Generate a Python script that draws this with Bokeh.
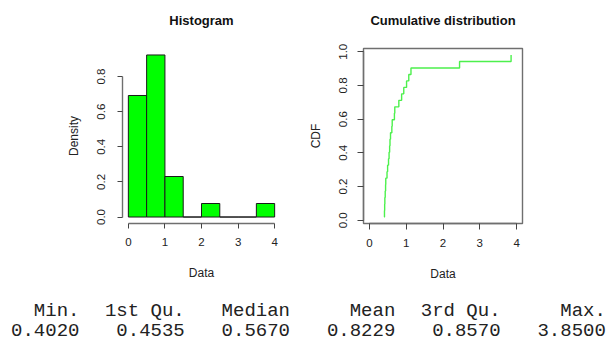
import numpy as np
from bokeh.plotting import figure
from bokeh.layouts import column, row
from bokeh.models import Range1d, FixedTicker, PrintfTickFormatter
from bokeh.embed import file_html
from bokeh.resources import INLINE
from bokeh.core.properties import value

# Sample (sorted ascending)
data = [0.402, 0.41, 0.415, 0.42, 0.43, 0.44, 0.445, 0.479, 0.495, 0.52,
        0.535, 0.55, 0.56, 0.574, 0.61, 0.62, 0.68, 0.69, 0.80, 0.876,
        0.934, 1.01, 1.07, 1.13, 2.45, 3.85]
bin_edges = [0.0, 0.5, 1.0, 1.5, 2.0, 2.5, 3.0, 3.5, 4.0]
data_ticks = [0, 1, 2, 3, 4]
density_ticks = [0.0, 0.2, 0.4, 0.6, 0.8]
cdf_ticks = [0.0, 0.2, 0.4, 0.6, 0.8, 1.0]
panel_titles = ["Histogram", "Cumulative distribution"]
stat_names = ["Min.", "1st Qu.", "Median", "Mean", "3rd Qu.", "Max."]
stat_values = [0.4020, 0.4535, 0.5670, 0.8229, 0.8570, 3.8500]

SANS = "Liberation Sans"
MONO = "Liberation Mono"
AXIS_GREY = "#6f6f6f"
INK = "#222222"

# panel geometry (pixels): header strip, plot panels, summary strip
HEAD_H, PANEL_H, TABLE_H = 35, 250, 57
P1_W, P2_W = 300, 308
P1_LEFT, P1_FRAME_W = 122, 158
P2_LEFT, P2_FRAME_W = 63, 159


def style_axes(p, tick_len, ylab_standoff):
    for ax in (p.xaxis[0], p.yaxis[0]):
        ax.axis_line_color = AXIS_GREY
        ax.axis_line_width = 1.4
        ax.major_tick_line_color = "#444444"
        ax.major_tick_in = 0
        ax.major_tick_out = tick_len
        ax.minor_tick_line_color = None
        ax.major_label_text_font = SANS
        ax.major_label_text_font_size = "11.5px"
        ax.major_label_text_color = INK
        ax.axis_label_text_font = SANS
        ax.axis_label_text_font_size = "12px"
        ax.axis_label_text_font_style = "normal"
        ax.axis_label_text_color = INK
    p.xaxis[0].major_label_standoff = 9
    p.yaxis[0].major_label_standoff = ylab_standoff
    p.yaxis[0].major_label_orientation = "vertical"
    p.xaxis[0].axis_label_standoff = 17
    p.yaxis[0].axis_label_standoff = 14
    p.xgrid.grid_line_color = None
    p.ygrid.grid_line_color = None
    p.background_fill_color = "white"
    p.border_fill_color = "white"


def strip(width, height):
    s = figure(width=width, height=height, x_range=Range1d(0, width),
               y_range=Range1d(height, 0), min_border=0,
               toolbar_location=None, output_backend="svg")
    s.axis.visible = False
    s.grid.grid_line_color = None
    s.outline_line_color = None
    return s


# ---- Panel headings ----
p0 = strip(P1_W + P2_W, HEAD_H)
title_x = [P1_LEFT + P1_FRAME_W / 2, P1_W + P2_LEFT + P2_FRAME_W / 2]
p0.text(x=title_x, y=[19.5, 19.5], text=panel_titles,
        text_align="center", text_baseline="middle",
        text_font=value(SANS), text_font_size="13px",
        text_font_style="bold", text_color="#111111")

# ---- Histogram (density scale) ----
dens, _ = np.histogram(data, bins=bin_edges, density=True)
dmax = float(dens.max())

p1 = figure(width=P1_W, height=PANEL_H,
            x_range=Range1d(-0.16, 4.16),
            y_range=Range1d(-0.04 * dmax, 1.04 * dmax),
            min_border_left=P1_LEFT, min_border_right=P1_W - P1_LEFT - P1_FRAME_W,
            min_border_top=13, min_border_bottom=62,
            toolbar_location=None, output_backend="svg")
p1.quad(left=bin_edges[:-1], right=bin_edges[1:], bottom=0, top=dens,
        fill_color="#00ff00", line_color="#1a1a1a", line_width=1)
p1.xaxis.axis_label = "Data"
p1.yaxis.axis_label = "Density"
p1.xaxis.ticker = FixedTicker(ticks=data_ticks)
p1.yaxis.ticker = FixedTicker(ticks=density_ticks)
p1.xaxis.formatter = PrintfTickFormatter(format="%d")
p1.yaxis.formatter = PrintfTickFormatter(format="%.1f")
p1.xaxis.bounds = (data_ticks[0], data_ticks[-1])
p1.yaxis.bounds = (density_ticks[0], density_ticks[-1])
p1.outline_line_color = None
style_axes(p1, 5, 12)

# ---- Empirical CDF (plotting positions) ----
n = len(data)
cdf = [(i + 0.5) / n for i in range(n)]
ylo, yhi = cdf[0], cdf[-1]
pad = 0.04 * (yhi - ylo)

p2 = figure(width=P2_W, height=PANEL_H,
            x_range=Range1d(-0.16, 4.16),
            y_range=Range1d(ylo - pad, yhi + pad),
            min_border_left=P2_LEFT, min_border_right=P2_W - P2_LEFT - P2_FRAME_W,
            min_border_top=12, min_border_bottom=62,
            toolbar_location=None, output_backend="svg")
p2.step(x=data, y=cdf, mode="after", line_color="#4cf04c", line_width=1.4)
p2.xaxis.axis_label = "Data"
p2.yaxis.axis_label = "CDF"
p2.xaxis.ticker = FixedTicker(ticks=data_ticks)
p2.yaxis.ticker = FixedTicker(ticks=cdf_ticks)
p2.xaxis.formatter = PrintfTickFormatter(format="%d")
p2.yaxis.formatter = PrintfTickFormatter(format="%.1f")
p2.xaxis.bounds = (data_ticks[0], data_ticks[-1])
p2.yaxis.bounds = (cdf_ticks[0], cdf_ticks[-1])
p2.outline_line_color = AXIS_GREY
p2.outline_line_width = 1.4
style_axes(p2, 6, 10)

# ---- Summary table printed in monospace columns ----
pitch = 13.16
col_right = [(8 * k + 6) * pitch for k in range(len(stat_names))]
p3 = strip(P1_W + P2_W, TABLE_H)
p3.text(x=col_right, y=[25.0] * len(stat_names), text=stat_names,
        text_align="right", text_baseline="alphabetic",
        text_font=value(MONO), text_font_size="19px", text_color=INK)
p3.text(x=col_right, y=[44.3] * len(stat_values),
        text=["%.4f" % v for v in stat_values],
        text_align="right", text_baseline="alphabetic",
        text_font=value(MONO), text_font_size="19px", text_color=INK)

layout = column(p0, row(p1, p2), p3)
open("out.html", "w").write(file_html(layout, INLINE))
